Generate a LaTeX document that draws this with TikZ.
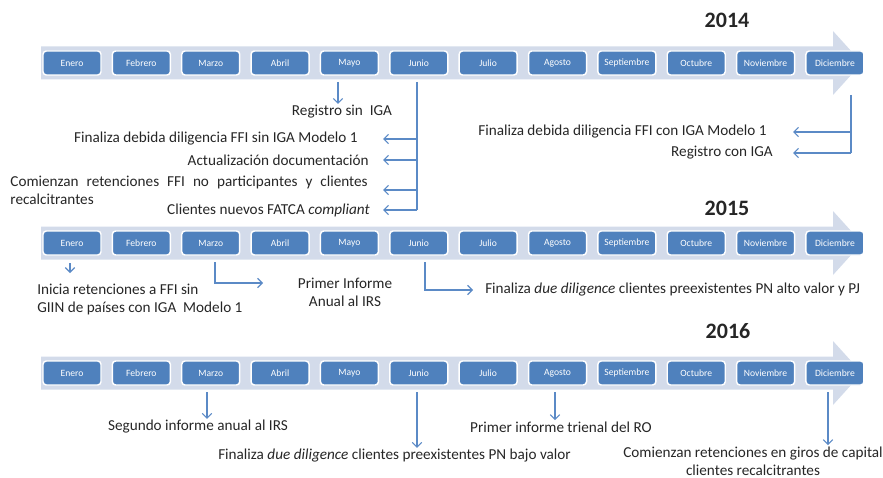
\documentclass[tikz,border=0pt]{standalone}
\usepackage{fontspec}
\setmainfont{Carlito}
\usetikzlibrary{arrows.meta}
\definecolor{bandgray}{RGB}{211,219,234}
\definecolor{boxblue}{RGB}{79,129,189}
\definecolor{linkblue}{RGB}{91,138,198}
\tikzset{
  month/.style={draw=white, line width=1.1pt, fill=boxblue, rounded corners=2.5pt,
    minimum width=43.5pt, minimum height=18pt, inner sep=0pt,
    text=white, font=\fontsize{7.2}{8}\selectfont},
  year/.style={font=\fontsize{16.5}{18}\selectfont\bfseries, text=black!85},
  note/.style={inner xsep=0pt, inner ysep=1pt, text=black!85,
    font=\fontsize{11.4}{13.5}\selectfont},
  link/.style={draw=linkblue, line width=0.8pt, -{Straight Barb[length=3.5pt,width=7pt]}},
  linkline/.style={draw=linkblue, line width=0.8pt},
}
\begin{document}
\begin{tikzpicture}[x=0.75pt, y=-0.75pt]
  \useasboundingbox (0,0) rectangle (883,478);

  % timelines
  \foreach \t/\y in {1/63,2/243,3/373}{
    \fill[bandgray] (41,\y-16.5) -- (833,\y-16.5) -- (833,\y-32) -- (862,\y)
      -- (833,\y+32) -- (833,\y+16.5) -- (41,\y+16.5) -- cycle;
    \foreach \m [count=\i] in {Enero,Febrero,Marzo,Abril,Mayo,Junio,Julio,Agosto,Septiembre,Octubre,Noviembre,Diciembre}
      \node[month] (m\t-\i) at ({72+(\i-1)*69.36},\y) {\m};
  }

  \node[year] (y2014) at (727,20) {2014};
  \node[year] (y2015) at (727,208) {2015};
  \node[year] (y2016) at (728,331) {2016};

  % 2014
  \node[note] (reg1) at (342,112) {Registro sin \ IGA};
  \node[note, anchor=east] (fin1) at (358,139) {Finaliza debida diligencia FFI sin IGA Modelo 1};
  \node[note, anchor=east] (act1) at (369,160) {Actualización documentación};
  \node[note, anchor=east, align=left] (com1) at (368,190)
    {\makebox[268pt][s]{Comienzan retenciones FFI no participantes y clientes}\\recalcitrantes};
  \node[note, anchor=east] (cli1) at (370,210) {Clientes nuevos FATCA \textit{compliant}};
  \node[note, anchor=east] (fin2) at (767,132) {Finaliza debida diligencia FFI con IGA Modelo 1};
  \node[note, anchor=east] (reg2) at (773,153) {Registro con IGA};

  \coordinate (may1) at (338,82);
  \draw[link] (may1) -- (may1 |- reg1.north);

  \coordinate (jun1) at (417,82);
  \coordinate (jun1e) at (417,210);
  \coordinate (jun1t) at (383,0);
  \draw[linkline] (jun1) -- (jun1e);
  \draw[link] (jun1 |- fin1) -- (jun1t |- fin1);
  \draw[link] (jun1 |- act1) -- (jun1t |- act1);
  \draw[link] (jun1 |- com1) -- (jun1t |- com1);
  \draw[link] (jun1e) -- (jun1t |- jun1e);

  \coordinate (dic1) at (851,95);
  \coordinate (dic1e) at (851,153);
  \coordinate (dic1t) at (793,0);
  \draw[linkline] (dic1) -- (dic1e);
  \draw[link] (dic1 |- fin2) -- (dic1t |- fin2);
  \draw[link] (dic1e) -- (dic1t |- dic1e);

  % 2015
  \node[note, anchor=west, align=left] (ini2) at (37,299)
    {Inicia retenciones a FFI sin\\GIIN de países con IGA \ Modelo 1};
  \node[note, align=center] (pri2) at (345,292) {Primer Informe\\Anual al IRS};
  \node[note, anchor=west] (due2) at (485,290) {Finaliza \textit{due diligence} clientes preexistentes PN alto valor y PJ};

  \coordinate (ene2) at (70,263);
  \draw[link] (ene2) -- (70,273);
  \coordinate (mar2) at (215,262);
  \coordinate (mar2t) at (263,283);
  \draw[link] (mar2) |- (mar2t);
  \coordinate (jun2) at (425,262);
  \coordinate (jun2t) at (473,290);
  \draw[link] (jun2) |- (jun2t);

  % 2016
  \node[note] (seg3) at (198,427) {Segundo informe anual al IRS};
  \node[note, anchor=west] (due3) at (218,456) {Finaliza \textit{due diligence} clientes preexistentes PN bajo valor};
  \node[note] (tri3) at (561,427) {Primer informe trienal del RO};
  \node[note, align=center] (gir3) at (753,461)
    {Comienzan retenciones en giros de capital\\clientes recalcitrantes};

  \coordinate (mar3) at (207,392);
  \draw[link] (mar3) -- (mar3 |- seg3.north);
  \coordinate (jun3) at (417,392);
  \draw[link] (jun3) -- (jun3 |- due3.north);
  \coordinate (ago3) at (555,392);
  \draw[link] (ago3) -- (ago3 |- tri3.north);
  \coordinate (dic3) at (828,392);
  \draw[link] (dic3) -- (dic3 |- gir3.north);
\end{tikzpicture}
\end{document}
